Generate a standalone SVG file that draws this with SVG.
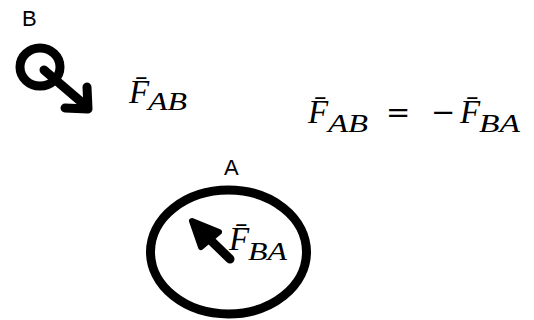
<svg xmlns="http://www.w3.org/2000/svg" width="534" height="320" viewBox="0 0 534 320">
<style>
.lbl{font-family:"Liberation Sans",Arial,sans-serif;font-size:22px;fill:#000}
.m{font-family:"Liberation Serif","Times New Roman",serif;font-style:italic;fill:#000}
.F{font-size:33px}
.s{font-size:25px}
.op{font-family:"DejaVu Sans",sans-serif;font-style:normal;font-size:29px}
.ring{fill:none;stroke:#000;stroke-width:9}
.shaft{fill:none;stroke:#000;stroke-width:9;stroke-linecap:round;stroke-linejoin:round}
.head{fill:#000;stroke:#000;stroke-width:6;stroke-linejoin:round}
</style>
<rect width="534" height="320" fill="#fff"/>
<g id="nodeB">
<text class="lbl" x="22" y="26">B</text>
<ellipse class="ring" cx="40" cy="67" rx="20" ry="19"/>
</g>
<g id="nodeA">
<text class="lbl" x="224" y="175">A</text>
<ellipse class="ring" cx="228.5" cy="252" rx="78" ry="62" stroke-width="7"/>
</g>
<g id="connectors">
<polyline class="shaft" points="44,70 86,106"/>
<polyline class="shaft" points="87,87 88,109 65,108"/>
<line class="shaft" x1="230" y1="259" x2="198" y2="228"/>
<polygon class="head" points="192,221 219,232 201,247"/>
</g>
<g id="labels">
<text class="m" x="129" y="103"><tspan class="F">F̄</tspan><tspan class="s" x="148" y="110" textLength="39" lengthAdjust="spacingAndGlyphs">AB</tspan></text>
<text class="m" x="229" y="250"><tspan class="F">F̄</tspan><tspan class="s" x="248" y="260" textLength="39" lengthAdjust="spacingAndGlyphs">BA</tspan></text>
<text class="m" y="123"><tspan class="F" x="308">F̄</tspan><tspan class="s" x="328" y="132" textLength="40" lengthAdjust="spacingAndGlyphs">AB</tspan><tspan class="op" x="386" y="122">=</tspan><tspan class="op" x="431" y="122">−</tspan><tspan class="F" x="460" y="123">F̄</tspan><tspan class="s" x="479" y="132" textLength="41" lengthAdjust="spacingAndGlyphs">BA</tspan></text>
</g>
</svg>
